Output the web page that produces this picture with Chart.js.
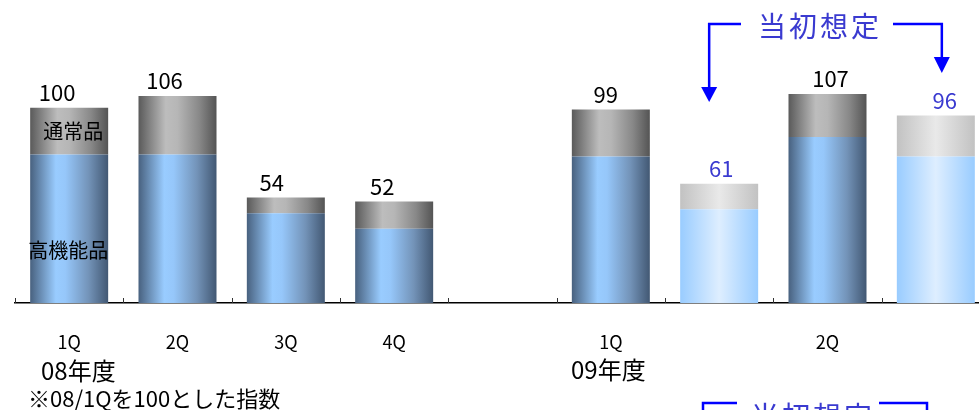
<!DOCTYPE html>
<html lang="ja">
<head>
<meta charset="utf-8">
<script src="https://cdn.jsdelivr.net/npm/chart.js@4.4.1/dist/chart.umd.min.js"></script>
<style>
  html, body { margin: 0; padding: 0; background: #fff; }
  #wrap { width: 979px; height: 410px; overflow: hidden; }
</style>
</head>
<body>
<div id="wrap"><canvas id="barChart" width="1000" height="410"></canvas></div>
<script>
// 四半期（空欄は年度の区切り）
const quarters = ['1Q', '2Q', '3Q', '4Q', '', '1Q', '', '2Q', ''];
// 高機能品・通常品（08/1Q=100 の指数）
const highFunc = [76, 76, 46, 38, null, 75, 48, 85, 75];
const normal   = [24, 30, 8, 14, null, 24, 13, 22, 21];
const totals   = [100, 106, 54, 52, null, 99, 61, 107, 96];
// 当初想定の棒
const isPlan   = [false, false, false, false, false, false, true, false, true];

const FONT = '"Noto Sans CJK JP", "Noto Sans", sans-serif';
const BAR_PCT = 0.72;
const labelNudge = [-12, -13, -14, -12, 0, -5, 2, 3, 9];

const shades = {
    high:     [[0, '#48617f'], [0.33, '#99ccff'], [0.45, '#96c7fa'], [0.75, '#7393b8'], [1, '#425873']],
    normal:   [[0, '#5a5a5a'], [0.35, '#bdbdbd'], [0.5, '#b6b6b6'], [0.78, '#888888'], [1, '#545454']],
    highPlan: [[0, '#99ccff'], [0.5, '#deeeff'], [1, '#99ccff']],
    normPlan: [[0, '#c2c2c2'], [0.5, '#e9e9e9'], [1, '#c2c2c2']]
};

// 棒ごとに横方向のグラデーションを作る
function barShade(c, key, planKey) {
    const stops = isPlan[c.dataIndex] ? shades[planKey] : shades[key];
    const chart = c.chart;
    const xs = chart.scales.x;
    if (!chart.chartArea || !xs || c.dataIndex == null) return stops[1][1];
    const cx = xs.getPixelForValue(c.dataIndex);
    const half = xs.width / quarters.length * BAR_PCT / 2;
    const g = chart.ctx.createLinearGradient(cx - half, 0, cx + half, 0);
    stops.forEach(s => g.addColorStop(s[0], s[1]));
    return g;
}

// 値ラベル・注記・区切りの目盛り
const decorations = {
    id: 'decorations',
    afterDatasetsDraw(chart) {
        const ctx = chart.ctx;
        const xs = chart.scales.x;
        const ys = chart.scales.y;
        const top = chart.getDatasetMeta(1).data;
        const step = xs.width / quarters.length;

        ctx.save();
        // 区切りの目盛り（軸線から上向き）
        ctx.strokeStyle = '#333';
        ctx.lineWidth = 1;
        for (let i = 0; i <= quarters.length; i++) {
            const x = Math.round(xs.left + i * step) + 0.5;
            ctx.beginPath();
            ctx.moveTo(x, ys.bottom);
            ctx.lineTo(x, ys.bottom - 5);
            ctx.stroke();
        }

        // 合計値
        ctx.font = '22px ' + FONT;
        ctx.textAlign = 'center';
        ctx.textBaseline = 'middle';
        totals.forEach((v, i) => {
            if (v == null) return;
            ctx.fillStyle = isPlan[i] ? '#3a3ad0' : '#000';
            ctx.fillText(String(v), top[i].x + labelNudge[i], top[i].y - 15);
        });

        // 系列名（08/1Q の棒の上に）
        ctx.fillStyle = '#000';
        ctx.font = '20px ' + FONT;
        const b0 = top[0];
        ctx.fillText('通常品', b0.x + 4, ys.getPixelForValue(88));
        ctx.fillText('高機能品', b0.x - 1, ys.getPixelForValue(27));

        // 年度と注記
        ctx.textAlign = 'left';
        ctx.font = '24px ' + FONT;
        ctx.fillText('08年度', 41, 371);
        ctx.fillText('09年度', 571, 370);
        ctx.font = '22px ' + FONT;
        ctx.fillText('※08/1Qを100とした指数', 28, 399);

        // 当初想定の括弧と矢印
        const blue = '#0000ff';
        const xl = top[6].x - 10;
        const xr = top[8].x + 6;
        ctx.strokeStyle = blue;
        ctx.fillStyle = blue;
        ctx.lineWidth = 2.5;
        ctx.beginPath();
        ctx.moveTo(741, 24); ctx.lineTo(xl, 24); ctx.lineTo(xl, 88);
        ctx.moveTo(893, 24); ctx.lineTo(xr, 24); ctx.lineTo(xr, 58);
        ctx.stroke();
        [[xl, 87, 102], [xr, 57, 73]].forEach(a => {
            ctx.beginPath();
            ctx.moveTo(a[0] - 8, a[1]);
            ctx.lineTo(a[0] + 8, a[1]);
            ctx.lineTo(a[0], a[2]);
            ctx.closePath();
            ctx.fill();
        });

        ctx.fillStyle = '#3a3ad0';
        ctx.font = '28px ' + FONT;
        ctx.letterSpacing = '3px';
        ctx.textAlign = 'center';
        ctx.fillText('当初想定', 820, 26);

        // 下側の枠（一部のみ表示）
        ctx.beginPath();
        ctx.moveTo(737, 403); ctx.lineTo(703, 403); ctx.lineTo(703, 412);
        ctx.moveTo(879, 403); ctx.lineTo(927, 403); ctx.lineTo(927, 412);
        ctx.stroke();
        ctx.textBaseline = 'top';
        ctx.fillText('当初想定', 813, 402);
        ctx.restore();
    }
};

const ctx = document.getElementById('barChart').getContext('2d');
const barChart = new Chart(ctx, {
    type: 'bar',
    data: {
        labels: quarters,
        datasets: [
            {
                label: '高機能品',
                data: highFunc,
                backgroundColor: c => barShade(c, 'high', 'highPlan'),
                borderWidth: 0
            },
            {
                label: '通常品',
                data: normal,
                backgroundColor: c => barShade(c, 'normal', 'normPlan'),
                borderWidth: 0
            }
        ]
    },
    options: {
        responsive: false,
        animation: false,
        categoryPercentage: 1,
        barPercentage: BAR_PCT,
        layout: { padding: { top: 10, left: 15, right: 10, bottom: 0 } },
        plugins: { legend: { display: false }, tooltip: { enabled: false } },
        scales: {
            x: {
                stacked: true,
                grid: { display: false },
                border: { display: true, color: '#000', width: 1.5 },
                ticks: { color: '#000', font: { family: FONT, size: 18 }, padding: 20 },
                afterFit(scale) { scale.height = 107; }
            },
            y: {
                stacked: true,
                display: false,
                min: 0,
                max: 150
            }
        }
    },
    plugins: [decorations]
});
</script>
</body>
</html>
